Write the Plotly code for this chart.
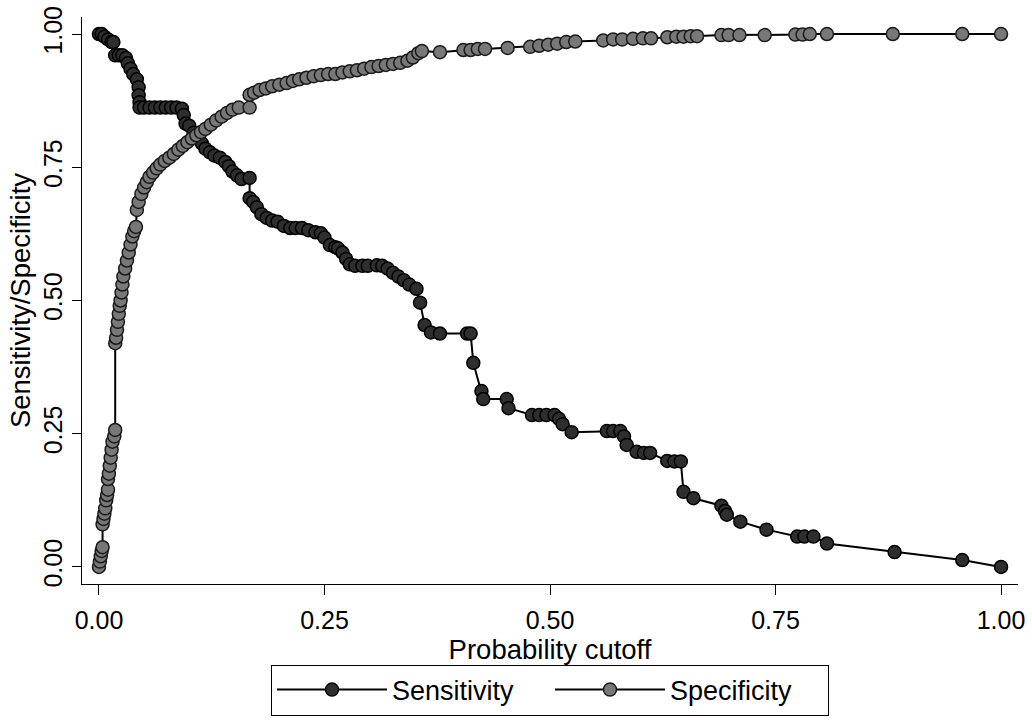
import plotly.graph_objects as go

# Sensitivity curve (probability cutoff, sensitivity)
sens_x = [0.000, 0.003, 0.006, 0.010, 0.014, 0.016, 0.018, 0.022, 0.026, 0.030,
          0.032, 0.035, 0.038, 0.042, 0.044, 0.044, 0.045, 0.045, 0.050, 0.056,
          0.062, 0.068, 0.074, 0.080, 0.086, 0.092, 0.094, 0.096, 0.100, 0.105,
          0.110, 0.114, 0.118, 0.123, 0.128, 0.134, 0.140, 0.144, 0.148, 0.153,
          0.158, 0.167, 0.167, 0.171, 0.175, 0.180, 0.186, 0.192, 0.198, 0.205,
          0.212, 0.218, 0.225, 0.232, 0.240, 0.246, 0.250, 0.256, 0.262, 0.265,
          0.270, 0.274, 0.278, 0.284, 0.292, 0.298, 0.308, 0.314, 0.320, 0.326,
          0.332, 0.338, 0.344, 0.352, 0.356, 0.361, 0.368, 0.378, 0.408, 0.412,
          0.415, 0.424, 0.426, 0.452, 0.454, 0.480, 0.488, 0.496, 0.505, 0.510,
          0.514, 0.524, 0.563, 0.570, 0.578, 0.582, 0.585, 0.596, 0.604, 0.611,
          0.630, 0.638, 0.645, 0.648, 0.659, 0.690, 0.694, 0.696, 0.711, 0.740,
          0.774, 0.782, 0.792, 0.807, 0.882, 0.957, 1.000]
sens_y = [1.000, 1.000, 0.995, 0.990, 0.985, 0.985, 0.960, 0.960, 0.960, 0.955,
          0.945, 0.935, 0.925, 0.915, 0.900, 0.885, 0.872, 0.862, 0.862, 0.862,
          0.862, 0.862, 0.862, 0.862, 0.862, 0.860, 0.848, 0.832, 0.828, 0.815,
          0.805, 0.795, 0.785, 0.778, 0.772, 0.768, 0.760, 0.752, 0.742, 0.735,
          0.728, 0.730, 0.692, 0.685, 0.675, 0.662, 0.655, 0.650, 0.648, 0.640,
          0.636, 0.636, 0.636, 0.632, 0.628, 0.626, 0.618, 0.604, 0.600, 0.598,
          0.590, 0.578, 0.568, 0.565, 0.565, 0.565, 0.566, 0.565, 0.560, 0.552,
          0.545, 0.538, 0.530, 0.522, 0.496, 0.454, 0.440, 0.438, 0.438, 0.438,
          0.383, 0.330, 0.315, 0.315, 0.298, 0.285, 0.285, 0.285, 0.285, 0.278,
          0.268, 0.253, 0.255, 0.255, 0.255, 0.245, 0.229, 0.216, 0.214, 0.214,
          0.199, 0.198, 0.198, 0.141, 0.129, 0.115, 0.105, 0.098, 0.085, 0.070,
          0.057, 0.057, 0.057, 0.044, 0.028, 0.013, 0.000]

# Specificity curve (probability cutoff, specificity)
spec_x = [0.000, 0.001, 0.002, 0.003, 0.004, 0.004, 0.005, 0.006, 0.007, 0.008,
          0.009, 0.010, 0.010, 0.011, 0.012, 0.013, 0.014, 0.015, 0.017, 0.018,
          0.018, 0.019, 0.020, 0.021, 0.022, 0.023, 0.024, 0.025, 0.026, 0.027,
          0.029, 0.031, 0.033, 0.035, 0.037, 0.039, 0.041, 0.042, 0.044, 0.047,
          0.050, 0.053, 0.056, 0.060, 0.064, 0.068, 0.073, 0.078, 0.083, 0.088,
          0.093, 0.098, 0.103, 0.108, 0.113, 0.118, 0.124, 0.130, 0.136, 0.142,
          0.148, 0.155, 0.167, 0.167, 0.172, 0.178, 0.185, 0.192, 0.200, 0.208,
          0.215, 0.222, 0.230, 0.238, 0.246, 0.254, 0.262, 0.270, 0.278, 0.286,
          0.294, 0.302, 0.310, 0.318, 0.326, 0.334, 0.342, 0.348, 0.354, 0.358,
          0.378, 0.404, 0.412, 0.420, 0.428, 0.453, 0.478, 0.488, 0.498, 0.508,
          0.518, 0.528, 0.559, 0.570, 0.580, 0.592, 0.603, 0.612, 0.630, 0.640,
          0.648, 0.656, 0.663, 0.690, 0.698, 0.710, 0.738, 0.772, 0.780, 0.788,
          0.807, 0.880, 0.957, 1.000]
spec_y = [0.000, 0.010, 0.020, 0.030, 0.037, 0.080, 0.090, 0.100, 0.110, 0.125,
          0.135, 0.145, 0.165, 0.175, 0.190, 0.205, 0.220, 0.235, 0.245, 0.257,
          0.420, 0.430, 0.445, 0.460, 0.475, 0.490, 0.500, 0.515, 0.530, 0.545,
          0.560, 0.575, 0.590, 0.605, 0.620, 0.630, 0.638, 0.670, 0.685, 0.700,
          0.712, 0.722, 0.732, 0.740, 0.748, 0.755, 0.762, 0.768, 0.775, 0.783,
          0.790, 0.797, 0.804, 0.810, 0.816, 0.822, 0.830, 0.838, 0.845, 0.852,
          0.858, 0.862, 0.862, 0.886, 0.890, 0.895, 0.898, 0.902, 0.905, 0.908,
          0.912, 0.915, 0.918, 0.921, 0.923, 0.925, 0.925, 0.928, 0.930, 0.932,
          0.935, 0.938, 0.940, 0.942, 0.944, 0.946, 0.950, 0.956, 0.964, 0.968,
          0.966, 0.970, 0.970, 0.972, 0.972, 0.974, 0.976, 0.978, 0.980, 0.982,
          0.985, 0.986, 0.988, 0.990, 0.990, 0.991, 0.992, 0.992, 0.994, 0.995,
          0.995, 0.996, 0.996, 0.998, 0.998, 0.998, 0.998, 0.999, 0.999, 1.000,
          1.000, 1.000, 1.000, 1.000]

tick_vals = [0, 0.25, 0.5, 0.75, 1.0]
tick_text = ["0.00", "0.25", "0.50", "0.75", "1.00"]

FONT = "Liberation Sans, Arial, sans-serif"

fig = go.Figure()
fig.add_trace(go.Scatter(
    x=sens_x, y=sens_y, mode="lines+markers", name="Sensitivity",
    line=dict(color="black", width=2),
    marker=dict(symbol="circle", size=13, color="#2e2e2e",
                line=dict(color="black", width=1.5)),
))
fig.add_trace(go.Scatter(
    x=spec_x, y=spec_y, mode="lines+markers", name="Specificity",
    line=dict(color="black", width=2),
    marker=dict(symbol="circle", size=13, color="#787878",
                line=dict(color="#1a1a1a", width=1.5)),
))

fig.update_layout(
    width=1032, height=720,
    margin=dict(l=82, r=14, t=17, b=136, autoexpand=False),
    paper_bgcolor="white", plot_bgcolor="white",
    font=dict(family=FONT, color="black", size=25),
    showlegend=True,
    legend=dict(
        orientation="h", x=0.5, xanchor="center", y=-0.142, yanchor="top",
        bordercolor="black", borderwidth=1, font=dict(size=27),
        itemwidth=110, entrywidth=153, entrywidthmode="pixels",
    ),
)
fig.update_xaxes(
    range=[-0.0188, 1.0188], tickvals=tick_vals, ticktext=tick_text,
    showline=True, linecolor="black", linewidth=1.3, mirror=False,
    ticks="outside", ticklen=10, tickwidth=1.3, tickcolor="black",
    showgrid=False, zeroline=False, tickfont=dict(size=25),
    ticklabelstandoff=4,
    title=dict(text="Probability cutoff", font=dict(size=27.5), standoff=0),
)
fig.update_yaxes(
    range=[-0.032, 1.032], tickvals=tick_vals, ticktext=tick_text,
    showline=True, linecolor="black", linewidth=1.3, mirror=False,
    ticks="outside", ticklen=9, tickwidth=1.3, tickcolor="black",
    showgrid=False, zeroline=False, tickangle=-90, tickfont=dict(size=25),
    title=dict(text="Sensitivity/Specificity", font=dict(size=27.5), standoff=0),
)

fig.write_html("out.html")
